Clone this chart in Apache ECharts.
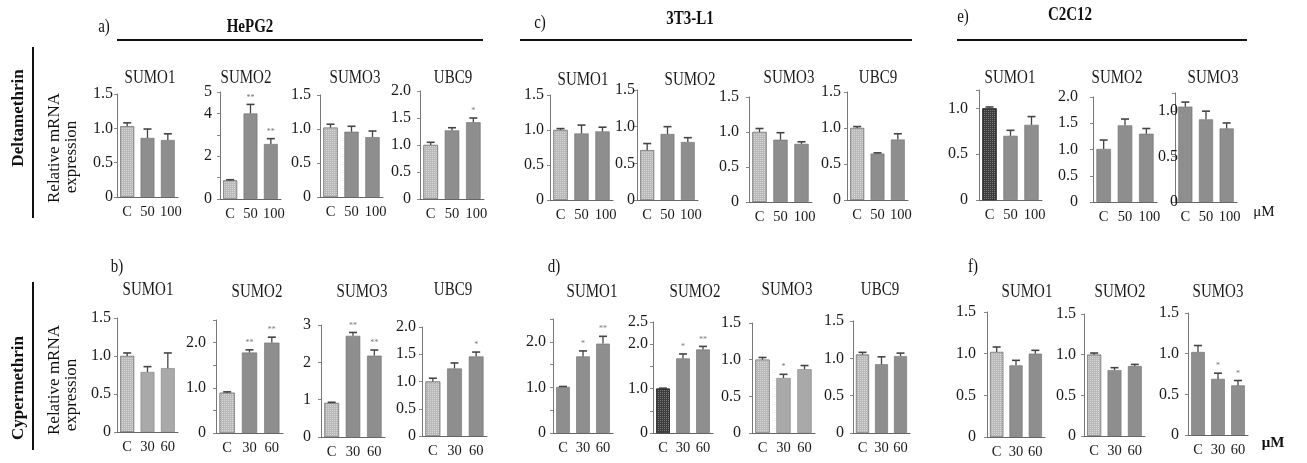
<!DOCTYPE html>
<html><head><meta charset="utf-8">
<script src="https://cdn.jsdelivr.net/npm/echarts@6/dist/echarts.min.js"></script>
<style>html,body{margin:0;padding:0;background:#fff}#c{width:1307px;height:463px}</style>
</head><body><div id="c"></div>
<script>
// ---------- categories ----------
const doseDelta = ['C', '50', '100'];
const doseCyper = ['C', '30', '60'];

// ---------- a) HePG2, Deltamethrin ----------
const aSUMO1 = [1.03, 0.86, 0.83]; const aSUMO1Err = [0.05, 0.13, 0.09];
const aSUMO2 = [0.87, 4.0, 2.57];  const aSUMO2Err = [0.03, 0.42, 0.25];
const aSUMO3 = [1.02, 0.96, 0.88]; const aSUMO3Err = [0.05, 0.08, 0.09];
const aUBC9  = [1.0, 1.27, 1.42];  const aUBC9Err  = [0.05, 0.05, 0.08];
// ---------- c) 3T3-L1, Deltamethrin ----------
const cSUMO1 = [1.0, 0.95, 0.98];  const cSUMO1Err = [0.02, 0.12, 0.06];
const cSUMO2 = [0.68, 0.9, 0.79];  const cSUMO2Err = [0.09, 0.1, 0.06];
const cSUMO3 = [1.0, 0.89, 0.83];  const cSUMO3Err = [0.05, 0.1, 0.03];
const cUBC9  = [1.0, 0.645, 0.84]; const cUBC9Err  = [0.02, 0.01, 0.08];
// ---------- e) C2C12, Deltamethrin ----------
const eSUMO1 = [1.0, 0.7, 0.82];   const eSUMO1Err = [0.015, 0.06, 0.09];
const eSUMO2 = [1.01, 1.46, 1.3];  const eSUMO2Err = [0.17, 0.12, 0.1];
const eSUMO3 = [1.05, 0.91, 0.81]; const eSUMO3Err = [0.05, 0.09, 0.06];
// ---------- b) HePG2, Cypermethrin ----------
const bSUMO1 = [1.0, 0.79, 0.84];  const bSUMO1Err = [0.04, 0.07, 0.2];
const bSUMO2 = [0.89, 1.78, 2.0];  const bSUMO2Err = [0.02, 0.06, 0.12];
const bSUMO3 = [0.91, 2.71, 2.18]; const bSUMO3Err = [0.02, 0.09, 0.15];
const bUBC9  = [1.0, 1.24, 1.46];  const bUBC9Err  = [0.06, 0.1, 0.08];
// ---------- d) 3T3-L1, Cypermethrin ----------
const dSUMO1 = [1.01, 1.68, 1.96]; const dSUMO1Err = [0.01, 0.12, 0.16];
const dSUMO2 = [1.0, 1.68, 1.88];  const dSUMO2Err = [0.01, 0.1, 0.07];
const dSUMO3 = [1.0, 0.75, 0.87];  const dSUMO3Err = [0.03, 0.05, 0.05];
const dUBC9  = [1.05, 0.92, 1.03]; const dUBC9Err  = [0.03, 0.1, 0.04];
// ---------- f) C2C12, Cypermethrin ----------
const fSUMO1 = [1.02, 0.86, 1.0];  const fSUMO1Err = [0.06, 0.06, 0.04];
const fSUMO2 = [1.0, 0.81, 0.86];  const fSUMO2Err = [0.02, 0.03, 0.02];
const fSUMO3 = [1.02, 0.69, 0.61]; const fSUMO3Err = [0.08, 0.07, 0.06];

// significance marks
const noMarks = ['', '', ''];
const aSUMO2Marks = ['', '**', '**'];
const aUBC9Marks  = ['', '', '*'];
const bSUMO2Marks = ['', '**', '**'];
const bSUMO3Marks = ['', '**', '**'];
const bUBC9Marks  = ['', '', '*'];
const dSUMO1Marks = ['', '*', '**'];
const dSUMO2Marks = ['', '*', '**'];
const dSUMO3Marks = ['', '*', ''];
const fSUMO3Marks = ['', '*', '*'];

// y-axis tick labels shown
const ticks05 = [0, 0.5, 1, 1.5, 2];
const ticksA2 = [0, 2, 4, 5];
const ticksE = [0, 0.5, 1];
const ticks012 = [0, 1, 2];
const ticksD2 = [0, 1, 2, 2.5];
const ticks0123 = [0, 1, 2, 3];

const panels = [
  ['SUMO1', doseDelta, aSUMO1, aSUMO1Err, noMarks, 'Lmm', ticks05],
  ['SUMO2', doseDelta, aSUMO2, aSUMO2Err, aSUMO2Marks, 'Lmm', ticksA2],
  ['SUMO3', doseDelta, aSUMO3, aSUMO3Err, noMarks, 'Lmm', ticks05],
  ['UBC9',  doseDelta, aUBC9,  aUBC9Err,  aUBC9Marks, 'Lmm', ticks05],
  ['SUMO1', doseDelta, cSUMO1, cSUMO1Err, noMarks, 'Lmm', ticks05],
  ['SUMO2', doseDelta, cSUMO2, cSUMO2Err, noMarks, 'Lmm', ticks05],
  ['SUMO3', doseDelta, cSUMO3, cSUMO3Err, noMarks, 'Lmm', ticks05],
  ['UBC9',  doseDelta, cUBC9,  cUBC9Err,  noMarks, 'Lmm', ticks05],
  ['SUMO1', doseDelta, eSUMO1, eSUMO1Err, noMarks, 'Dmm', ticksE],
  ['SUMO2', doseDelta, eSUMO2, eSUMO2Err, noMarks, 'mmm', ticks05],
  ['SUMO3', doseDelta, eSUMO3, eSUMO3Err, noMarks, 'mmm', ticksE],
  ['SUMO1', doseCyper, bSUMO1, bSUMO1Err, noMarks, 'Lll', ticks05],
  ['SUMO2', doseCyper, bSUMO2, bSUMO2Err, bSUMO2Marks, 'Lmm', ticks012],
  ['SUMO3', doseCyper, bSUMO3, bSUMO3Err, bSUMO3Marks, 'Lmm', ticks0123],
  ['UBC9',  doseCyper, bUBC9,  bUBC9Err,  bUBC9Marks, 'Lmm', ticks05],
  ['SUMO1', doseCyper, dSUMO1, dSUMO1Err, dSUMO1Marks, 'mmm', ticks012],
  ['SUMO2', doseCyper, dSUMO2, dSUMO2Err, dSUMO2Marks, 'Dmm', ticksD2],
  ['SUMO3', doseCyper, dSUMO3, dSUMO3Err, dSUMO3Marks, 'Lll', ticks05],
  ['UBC9',  doseCyper, dUBC9,  dUBC9Err,  noMarks, 'Lmm', ticks05],
  ['SUMO1', doseCyper, fSUMO1, fSUMO1Err, noMarks, 'Lmm', ticks05],
  ['SUMO2', doseCyper, fSUMO2, fSUMO2Err, noMarks, 'Lmm', ticks05],
  ['SUMO3', doseCyper, fSUMO3, fSUMO3Err, fSUMO3Marks, 'mmm', ticks05]
];

// layout: [axisX, axisEndX, yTop, yBase, yMax, interval, labelMargin, titleX, titleY]
const layout = [
  [117, 178, 94, 197, 1.5, 0.5, 4, 150, 78],
  [220, 281, 92, 199, 5, 1, 8, 246, 78],
  [320, 383, 95, 197, 1.5, 0.5, 9, 355, 78],
  [420, 484, 91, 199, 2.0, 0.5, 9, 453, 78],
  [550, 613, 95, 200, 1.5, 0.5, 6, 583, 80],
  [637, 698, 90, 200, 1.5, 0.5, 2, 690, 80],
  [749, 812, 97, 202, 1.5, 0.5, 10, 789, 78],
  [847, 908, 92, 200, 1.5, 0.5, 6, 878, 78],
  [979, 1042, 90, 200, 1.2, 0.5, 11, 1010, 78],
  [1093, 1157, 97, 202, 2.0, 0.5, 15, 1117, 78],
  [1175, 1237, 93, 202, 1.2, 0.5, -3, 1213, 78],
  [117, 178, 318, 432, 1.5, 0.5, 6, 148, 290],
  [216, 283, 320, 433, 2.5, 0.5, 10, 257, 292],
  [321, 385, 325, 437, 3, 1, 10, 362, 292],
  [422, 487, 327, 436, 2.0, 0.5, 6, 453, 290],
  [553, 613, 319, 433, 2.5, 0.5, 7, 592, 292],
  [653, 713, 322, 433, 2.5, 0.5, 5, 695, 292],
  [752, 815, 323, 433, 1.5, 0.5, 11, 787, 290],
  [853, 910, 321, 433, 1.5, 0.5, 9, 880, 290],
  [987, 1045, 312, 437, 1.5, 0.5, 11, 1027, 292],
  [1084, 1145, 314, 436, 1.5, 0.5, 8, 1120, 292],
  [1188, 1248, 313, 435, 1.5, 0.5, 9, 1218, 292]
];

const SERIF = 'Liberation Serif';
const styles = {
  m: { color: '#8e8e8e', borderColor: '#6e6e6e', borderWidth: 0.6 },
  l: { color: '#a9a9a9', borderColor: '#7e7e7e', borderWidth: 0.6 },
  L: { color: '#b9b9b9', borderColor: '#7a7a7a', borderWidth: 0.6,
       decal: { symbol: 'rect', symbolSize: 1, dashArrayX: [1, 1], dashArrayY: [1, 1], color: 'rgba(255,255,255,0.45)' } },
  D: { color: '#3c3c3c', borderColor: '#222', borderWidth: 0.6,
       decal: { symbol: 'rect', symbolSize: 1, dashArrayX: [1, 1], dashArrayY: [1, 1], color: 'rgba(200,200,200,0.45)' } }
};

const grid = [], xAxis = [], yAxis = [], series = [], graphic = [];

panels.forEach((p, i) => {
  const [title, cats, mean, err, marks, look, shown] = p;
  const [x0, x1, yTop, yBase, yMax, interval, lm, tx, ty] = layout[i];
  grid.push({ left: x0, top: yTop, width: x1 - x0, height: yBase - yTop, containLabel: false });
  xAxis.push({
    gridIndex: i, type: 'category', data: cats,
    axisLine: { lineStyle: { color: '#666', width: 1 } },
    axisTick: { alignWithLabel: true, length: 3, lineStyle: { color: '#777' } },
    axisLabel: {
      interval: 0, margin: 8, fontFamily: SERIF, fontSize: 14.5, color: '#1a1a1a',
      formatter: v => v === '100' ? '{w|100}' : v,
      rich: { w: { fontFamily: SERIF, fontSize: 14.5, color: '#1a1a1a', padding: [0, 0, 0, 6] } }
    }
  });
  yAxis.push({
    gridIndex: i, type: 'value', min: 0, max: yMax, interval: interval,
    splitLine: { show: false },
    axisLine: { show: true, lineStyle: { color: '#777', width: 1 } },
    axisTick: { show: true, length: 3, lineStyle: { color: '#888' } },
    axisLabel: {
      margin: lm, fontFamily: SERIF, fontSize: 16, color: '#1a1a1a',
      formatter: v => {
        if (!shown.some(s => Math.abs(s - v) < 1e-9)) return '';
        if (v === 0) return '0';
        return interval >= 1 ? String(v) : v.toFixed(1);
      }
    }
  });
  series.push({
    type: 'bar', xAxisIndex: i, yAxisIndex: i, silent: true, barWidth: '68%',
    data: mean.map((v, j) => ({ value: v, itemStyle: styles[look[j]] }))
  });
  series.push({
    type: 'custom', xAxisIndex: i, yAxisIndex: i, silent: true, clip: false, z: 5,
    encode: { x: 0, y: 1 },
    data: mean.map((v, j) => [j, v, err[j]]),
    renderItem: (params, api) => {
      const j = params.dataIndex;
      const b = api.coord([api.value(0), api.value(1)]);
      const t = api.coord([api.value(0), api.value(1) + api.value(2)]);
      const ch = [
        { type: 'line', shape: { x1: b[0], y1: b[1], x2: t[0], y2: t[1] }, style: { stroke: '#444', lineWidth: 1.3 } },
        { type: 'line', shape: { x1: t[0] - 4, y1: t[1], x2: t[0] + 4, y2: t[1] }, style: { stroke: '#444', lineWidth: 1.6 } }
      ];
      if (marks[j]) ch.push({ type: 'text', x: t[0], y: t[1] - 3,
        style: { text: marks[j], fill: '#777', font: '8px ' + SERIF, align: 'center', verticalAlign: 'bottom' } });
      return { type: 'group', children: ch };
    }
  });
  graphic.push({ type: 'text', x: tx, y: ty, scaleY: 1.2, silent: true,
    style: { text: title, font: '15px "' + SERIF + '"', fill: '#1a1a1a', align: 'center', verticalAlign: 'middle' } });
});

function txt(x, y, s, font, rot, sy) {
  graphic.push({ type: 'text', x: x, y: y, rotation: rot || 0, scaleY: sy || 1, silent: true,
    style: { text: s, font: font, fill: '#111', align: 'center', verticalAlign: 'middle' } });
}
function ln(x1, y1, x2, y2, w) {
  graphic.push({ type: 'line', silent: true, shape: { x1, y1, x2, y2 }, style: { stroke: '#111', lineWidth: w } });
}
const F = '15px "' + SERIF + '"', FB = 'bold 15px "' + SERIF + '"';
txt(104, 27, 'a)', F, 0, 1.2); txt(250, 27, 'HePG2', FB, 0, 1.2); ln(117, 40, 483, 40, 2);
txt(540, 23, 'c)', F, 0, 1.2); txt(690, 19, '3T3-L1', FB, 0, 1.2); ln(520, 40, 912, 40, 2);
txt(963, 17, 'e)', F, 0, 1.2); txt(1070, 15, 'C2C12', FB, 0, 1.2); ln(957, 40, 1247, 40, 2);
txt(117, 267, 'b)', F, 0, 1.2); txt(554, 267, 'd)', F, 0, 1.2); txt(973, 267, 'f)', F, 0, 1.2);
ln(33, 47, 33, 218, 2); ln(33, 282, 33, 450, 2);
txt(19, 118, 'Deltamethrin', 'bold 17px "' + SERIF + '"', Math.PI / 2);
txt(19, 388, 'Cypermethrin', 'bold 17px "' + SERIF + '"', Math.PI / 2);
txt(55, 148, 'Relative mRNA', '17px "' + SERIF + '"', Math.PI / 2);
txt(72, 157, 'expression', '17px "' + SERIF + '"', Math.PI / 2);
txt(55, 380, 'Relative mRNA', '17px "' + SERIF + '"', Math.PI / 2);
txt(72, 395, 'expression', '17px "' + SERIF + '"', Math.PI / 2);
txt(1264, 212, 'μM', F);
txt(1273, 443, 'μM', FB);

const chart = echarts.init(document.getElementById('c'), null, { renderer: 'canvas' });
chart.setOption({
  animation: false, backgroundColor: '#fff',
  grid, xAxis, yAxis, series, graphic
});
</script>
</body></html>
